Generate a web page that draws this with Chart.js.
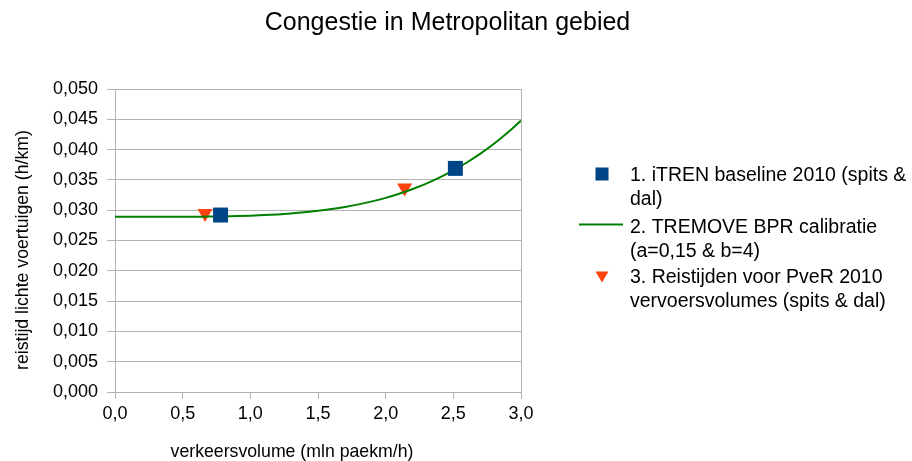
<!DOCTYPE html>
<html>
<head>
<meta charset="utf-8">
<script src="https://cdn.jsdelivr.net/npm/chart.js@4.4.0/dist/chart.umd.min.js"></script>
<style>
  html, body { margin: 0; padding: 0; background: #ffffff; }
  #wrap { width: 912px; height: 461px; }
</style>
</head>
<body>
<div id="wrap"><canvas id="chart" width="912" height="461"></canvas></div>
<script>
// ---- chart data ----
const chartTitle = 'Congestie in Metropolitan gebied';
const xAxisTitle = 'verkeersvolume (mln paekm/h)';
const yAxisTitle = 'reistijd lichte voertuigen (h/km)';

const seriesNames = [
  ['1. iTREN baseline 2010 (spits &', 'dal)'],
  ['2. TREMOVE BPR calibratie', '(a=0,15 & b=4)'],
  ['3. Reistijden voor PveR 2010', 'vervoersvolumes (spits & dal)']
];

// 1. iTREN baseline points
const itrenX = [0.78, 2.515];
const itrenY = [0.0292, 0.0369];

// 2. BPR curve
const bprX = [0.0, 0.1, 0.2, 0.3, 0.4, 0.5, 0.6, 0.7, 0.8, 0.9, 1.0,
              1.1, 1.2, 1.3, 1.4, 1.5, 1.6, 1.7, 1.8, 1.9, 2.0,
              2.1, 2.2, 2.3, 2.4, 2.5, 2.6, 2.7, 2.8, 2.9, 3.0];
const bprY = [0.02890, 0.02890, 0.02890, 0.02890, 0.02891, 0.02891, 0.02893, 0.02895, 0.02898, 0.02903, 0.02910,
              0.02919, 0.02931, 0.02946, 0.02965, 0.02989, 0.03019, 0.03054, 0.03096, 0.03146, 0.03204,
              0.03272, 0.03350, 0.03439, 0.03541, 0.03656, 0.03787, 0.03933, 0.04096, 0.04278, 0.04479];

// 3. PveR 2010 travel times
const pverX = [0.665, 2.14];
const pverY = [0.0295, 0.0337];

// axis ranges
const xMin = 0, xMax = 3, xStep = 0.5;
const yMin = 0, yMax = 0.05, yStep = 0.005;

// ---- styling ----
const FONT = '"Liberation Sans", Arial, sans-serif';
const BLUE = '#004586';
const GREEN = '#008000';
const ORANGE = '#ff420e';
const GRID = '#b3b3b3';

const toPoints = (xs, ys) => xs.map((x, i) => ({ x: x, y: ys[i] }));
const comma = (v, d) => Number(v).toFixed(d).replace('.', ',');

// axis titles and the multi-line legend on the right
const extrasPlugin = {
  id: 'extras',
  afterDraw(chart) {
    const ctx = chart.ctx;
    ctx.save();
    ctx.fillStyle = '#000';

    // x-axis title
    ctx.font = '17.7px ' + FONT;
    ctx.textAlign = 'center';
    ctx.textBaseline = 'alphabetic';
    ctx.fillText(xAxisTitle, 292, 457);

    // y-axis title
    ctx.save();
    ctx.translate(28, 250);
    ctx.rotate(-Math.PI / 2);
    ctx.font = '17.7px ' + FONT;
    ctx.fillText(yAxisTitle, 0, 0);
    ctx.restore();

    // legend
    const markerX = 602;
    const textX = 630;
    const rowY = [176, 228, 278];
    const lineGap = 23.5;
    ctx.font = '19.5px ' + FONT;
    ctx.textAlign = 'left';
    ctx.textBaseline = 'middle';
    chart.data.datasets.forEach((ds, i) => {
      const y = rowY[i];
      const lines = seriesNames[i];
      lines.forEach((t, k) => ctx.fillText(t, textX, y + k * lineGap));
      if (ds.pointStyle === 'rect') {
        ctx.fillStyle = ds.backgroundColor;
        ctx.fillRect(markerX - 6.5, y - 8.5, 13, 13);
      } else if (ds.pointStyle === 'triangle') {
        ctx.fillStyle = ds.backgroundColor;
        ctx.beginPath();
        ctx.moveTo(markerX - 6.5, y - 6.5);
        ctx.lineTo(markerX + 6.5, y - 6.5);
        ctx.lineTo(markerX, y + 4.5);
        ctx.closePath();
        ctx.fill();
      } else {
        ctx.strokeStyle = ds.borderColor;
        ctx.lineWidth = ds.borderWidth;
        ctx.beginPath();
        ctx.moveTo(579, y - 3.5);
        ctx.lineTo(623, y - 3.5);
        ctx.stroke();
      }
      ctx.fillStyle = '#000';
    });
    ctx.restore();
  }
};

new Chart(document.getElementById('chart'), {
  type: 'scatter',
  data: {
    datasets: [
      {
        label: seriesNames[0].join(' '),
        data: toPoints(itrenX, itrenY),
        pointStyle: 'rect',
        pointRadius: 10.6,
        pointBorderWidth: 0,
        backgroundColor: BLUE,
        borderColor: BLUE,
        showLine: false
      },
      {
        label: seriesNames[1].join(' '),
        type: 'line',
        data: toPoints(bprX, bprY),
        borderColor: GREEN,
        backgroundColor: GREEN,
        borderWidth: 2,
        pointRadius: 0,
        cubicInterpolationMode: 'monotone',
        fill: false
      },
      {
        label: seriesNames[2].join(' '),
        data: toPoints(pverX, pverY),
        pointStyle: 'triangle',
        pointRotation: 180,
        pointRadius: 8.66,
        pointBorderWidth: 0,
        backgroundColor: ORANGE,
        borderColor: ORANGE,
        showLine: false
      }
    ]
  },
  options: {
    responsive: false,
    animation: false,
    events: [],
    layout: { padding: { left: 0, right: 17, top: 0, bottom: 0 } },
    plugins: {
      legend: { display: false },
      tooltip: { enabled: false },
      title: {
        display: true,
        text: chartTitle,
        color: '#000',
        font: { family: FONT, size: 25, weight: 'normal', lineHeight: 1.2 },
        padding: { top: 8.4, bottom: 50.6 }
      }
    },
    scales: {
      x: {
        type: 'linear',
        position: 'bottom',
        min: xMin,
        max: xMax,
        ticks: {
          stepSize: xStep,
          color: '#000',
          font: { family: FONT, size: 18 },
          padding: 4,
          maxRotation: 0,
          callback: v => comma(v, 1)
        },
        grid: { color: GRID, drawOnChartArea: false, tickLength: 7 },
        border: { color: GRID },
        afterFit(scale) { scale.height = 69; }
      },
      y: {
        type: 'linear',
        position: 'left',
        min: yMin,
        max: yMax,
        ticks: {
          stepSize: yStep,
          color: '#000',
          font: { family: FONT, size: 18 },
          padding: 9,
          callback: v => comma(v, 3)
        },
        grid: { color: GRID, tickLength: 8 },
        border: { color: GRID },
        afterFit(scale) { scale.width = 115; }
      },
      y2: {
        type: 'linear',
        position: 'right',
        min: 0,
        max: 1,
        ticks: { display: false },
        grid: { drawOnChartArea: false, drawTicks: false, color: GRID },
        border: { color: GRID },
        afterFit(scale) { scale.width = 374; }
      }
    }
  },
  plugins: [extrasPlugin]
});
</script>
</body>
</html>
